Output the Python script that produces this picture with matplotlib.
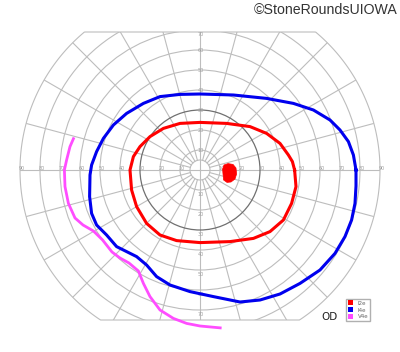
import numpy as np
import matplotlib
matplotlib.use('Agg')
import matplotlib.pyplot as plt
from matplotlib.patches import Polygon, Circle, Patch

# Isopters, in degrees (x = temporal/nasal, y = superior/inferior)
i2e_x = [47.3, 46.2, 44.2, 40, 33.3, 25, 13.3, 0, -10, -18.3, -25, -30, -33.3, -35,
         -34.2, -31.7, -26.7, -20, -11.7, 0, 15, 26.7, 35, 41.7, 45.8, 48, 47.3]
i2e_y = [0, 4.2, 7.5, 13.3, 18.3, 21.7, 23.3, 23.8, 23.3, 20.8, 16.7, 11.7, 6.7, 0,
         -10, -18.3, -26.7, -32.5, -35.3, -36.3, -35.8, -34.2, -30.8, -25, -16.7, -8.3, 0]

i4e_x = [78, 76.7, 74.2, 70, 65, 56.7, 46.7, 33.3, 16.7, 0, -10, -20, -28.3, -36.7,
         -43.3, -48.3, -51.7, -54.2, -55, -55.2, -54.2, -51.7, -46.7, -41.7, -38.3, -31.7,
         -26.7, -21.7, -15, -5, 6.7, 20, 30, 40, 50, 60, 67.5, 72.5, 75.8, 77.5, 78, 78]
i4e_y = [0, 7.5, 14.2, 20, 25, 30, 33.3, 35.8, 37.5, 38, 37.8, 36.7, 33.3, 28.3,
         22.5, 15.8, 9.2, 2.5, -2.5, -13.3, -21.7, -27.5, -32.5, -38.3, -40, -43.3,
         -47.5, -53.3, -57.5, -60.8, -63.3, -66, -65, -62, -56.7, -50, -41.7, -33.3, -25, -16.7, -8, 0]

v4e_x = [-63, -65, -66.7, -67.8, -67.5, -65.8, -62.5, -58.5, -53.3, -48.7, -44, -40, -35.5,
         -30.8, -28.3, -25, -20, -13.3, -6.7, 0, 10.8]
v4e_y = [16.3, 11.7, 5, 0, -8.3, -16.7, -24, -27.5, -30.5, -35, -41, -44, -46.5,
         -50.5, -56.7, -63.3, -70, -74.2, -76.7, -78, -79]

# blind spot (I2e scotoma)
spot_x = [12, 14, 16.5, 18, 18.3, 17.5, 15.5, 13.5, 11.8, 11.5, 11.3]
spot_y = [2.5, 3.2, 2.8, 1, -2, -4.5, -6, -6.2, -5, -2, 0.5]

rings = [10, 20, 30, 40, 50, 60, 70, 80, 90]
up_labels = [10, 20, 30, 40, 50, 60, 70]
down_labels = [10, 20, 30, 40, 50, 60, 70]

legend_labels = ['I2e', 'I4e', 'V4e']
colors = ['#ff0000', '#0000ee', '#ff4dff']

grid_col = '#bdbdbd'
lab_col = '#a0a0a0'

fig = plt.figure(figsize=(4, 3.52), dpi=100)
ax = fig.add_axes([0, 0, 1, 1])
ax.set_xlim(-100, 100)
ax.set_ylim(-91, 85)
ax.axis('off')

# outer border: 90 deg circle cut at top and bottom
t = np.linspace(0, 2 * np.pi, 721)
bx = 90 * np.cos(t)
by = np.clip(90 * np.sin(t), -75, 69)
border = Polygon(np.column_stack([bx, by]), closed=True, fill=False,
                 edgecolor=grid_col, lw=0.8, zorder=1)
ax.add_patch(border)

for r in rings[:-1]:
    c = Circle((0, 0), r, fill=False, lw=0.8 if r != 30 else 0.9,
               ec=grid_col if r != 30 else '#707070', zorder=1 if r != 30 else 1.5)
    ax.add_patch(c)
    c.set_clip_path(border)
ax.add_patch(Circle((0, 0), 5, fill=False, lw=0.8, ec=grid_col, zorder=1))

for a in range(0, 360, 15):
    start = 0 if a % 90 == 0 else 5
    ang = np.radians(a)
    ln, = ax.plot([start * np.cos(ang), 95 * np.cos(ang)],
                  [start * np.sin(ang), 95 * np.sin(ang)], color=grid_col, lw=0.8, zorder=1)
    ln.set_clip_path(border)

for v in rings:
    ax.text(v + 0.8, 0.8, str(v), fontsize=3.5, color=lab_col, ha='center', va='center', zorder=2)
    ax.text(-v + 0.8, 0.8, str(v), fontsize=3.5, color=lab_col, ha='center', va='center', zorder=2)
for v in up_labels:
    ax.text(0.5, min(v, 68) - 0.5, str(v), fontsize=3.5, color=lab_col, ha='center', va='center', zorder=2)
for v in down_labels:
    ax.text(0.5, -v - 2.2, str(v), fontsize=3.5, color=lab_col, ha='center', va='center', zorder=2)

ax.plot(v4e_x, v4e_y, color=colors[2], lw=2.0, solid_capstyle='butt', solid_joinstyle='round', zorder=3)
ax.plot(i4e_x, i4e_y, color=colors[1], lw=2.2, solid_joinstyle='round', zorder=4)
ax.plot(i2e_x, i2e_y, color=colors[0], lw=2.2, solid_joinstyle='round', zorder=4)
ax.fill(spot_x, spot_y, color=colors[0], lw=0.5, zorder=4)

ax.text(64.5, -73.5, 'OD', fontsize=7.5, ha='center', va='center', color='#222222')
ax.text(0.995, 0.972, '©StoneRoundsUIOWA', transform=fig.transFigure, fontsize=10.2,
        ha='right', va='center', color='#333333', family='Liberation Sans')

handles = [Patch(facecolor=c, edgecolor='none') for c in colors]
ax.legend(handles, legend_labels, loc='lower left', bbox_to_anchor=(346 / 400, 31 / 352),
          bbox_transform=fig.transFigure, fontsize=4, handlelength=1.0, handleheight=1.0,
          handletextpad=0.8, borderpad=0.3, labelspacing=0.25, borderaxespad=0,
          fancybox=False, framealpha=1, edgecolor='#b0b0b0', labelcolor='#666666')

plt.savefig('out.png', dpi=100)
